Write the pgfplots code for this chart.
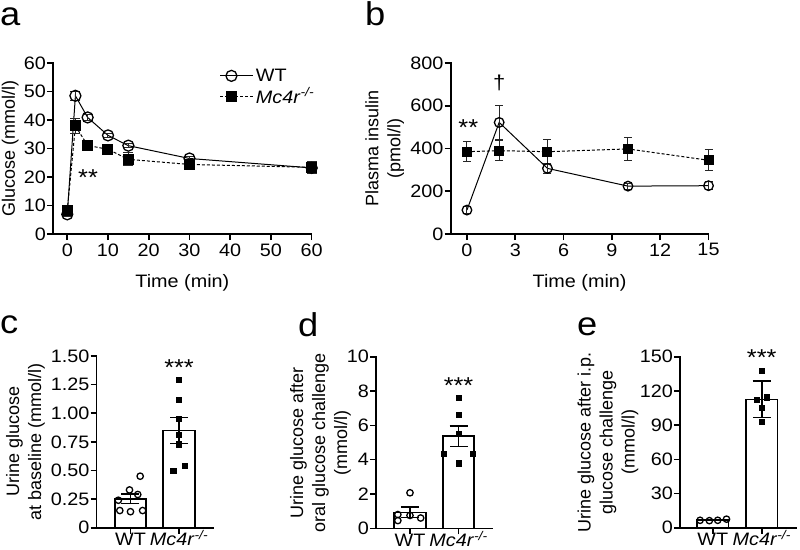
\documentclass[border=0pt]{standalone}
\usepackage{fontspec}
\setmainfont{Liberation Sans}[FakeStretch=1.1]
\newfontfamily\rotfont{Liberation Sans}
\usepackage{pgfplots}
\pgfplotsset{compat=1.18}
\newcommand{\mcr}{\textit{Mc4r}\textsuperscript{\textit{-/-}}}
\pgfplotsset{
  prism/.style={
    scale only axis, anchor=south west, clip=false,
    axis lines=left,
    axis line style={-, line width=1.6pt, line cap=rect},
    tick style={line width=1.6pt, black},
    major tick length=6pt, tick align=outside,
    /pgf/number format/assume math mode=true,
    tick label style={font=\fontsize{18}{22}\selectfont},
    label style={font=\fontsize{18}{22}\selectfont},
    every axis y label/.style={at={(axis description cs:-0.2,0.5)}, rotate=90, anchor=center, align=center, font=\rotfont\fontsize{18}{22}\selectfont},
    every axis x label/.style={at={(axis description cs:0.5,0)}, anchor=base, yshift=-53pt},
    yticklabel style={inner sep=1pt},
  },
  bottom/.style={xtick={0,1}, xticklabels={WT,\mcr}, xticklabel style={anchor=base, inner sep=0pt, yshift=-12pt}},
  wt/.style={error bars/.cd, y dir=both, y explicit, error bar style={line width=1pt, black!85}, error mark options={rotate=90, black!85, line width=1pt, mark size=#1},
    /pgfplots/.cd, black, line width=1pt, mark=o, mark options={solid, fill=white, line width=1.3pt}},
  ko/.style={error bars/.cd, y dir=both, y explicit, error bar style={solid, line width=1pt, black!85}, error mark options={rotate=90, solid, black!85, line width=1pt, mark size=#1},
    /pgfplots/.cd, black, line width=1pt, densely dashed, mark=square*, mark options={solid, fill=black}},
  bars/.style={error bars/.cd, y dir=both, y explicit, error bar style={line width=1.6pt}, error mark options={rotate=90, line width=1.6pt, mark size=9pt},
    /pgfplots/.cd, ybar, bar width=31.5pt, fill=white, draw=black, line width=1.6pt},
  dotswt/.style={only marks, mark=o, mark size=3.2pt, mark options={line width=1.3pt, fill=white}},
  dotsko/.style={only marks, mark=square*, mark size=2.6pt, mark options={fill=black}},
}
\begin{document}
\begin{tikzpicture}[font=\fontsize{18}{22}\selectfont]
\useasboundingbox (0pt,0pt) rectangle (800pt,-549pt);
% panel letters
\node[anchor=base west, inner sep=0pt, font=\fontsize{33}{36}\selectfont] at (0pt,-25pt) {a};
\node[anchor=base west, inner sep=0pt, font=\fontsize{33}{36}\selectfont] at (365pt,-25pt) {b};
\node[anchor=base west, inner sep=0pt, font=\fontsize{33}{36}\selectfont] at (0pt,-333pt) {c};
\node[anchor=base west, inner sep=0pt, font=\fontsize{33}{36}\selectfont] at (298pt,-336pt) {d};
\node[anchor=base west, inner sep=0pt, font=\fontsize{33}{36}\selectfont] at (577pt,-335pt) {e};

% ---------- panel a ----------
\begin{axis}[prism, at={(53pt,-234pt)}, width=258.7pt, height=171pt,
  xmin=-3.5, xmax=60, ymin=0, ymax=60,
  xtick={0,10,...,60}, ytick={0,10,...,60},
  xlabel={Time (min)}, ylabel={Glucose (mmol/l)},
  every axis y label/.append style={at={(axis description cs:-0.165,0.5)}},
  legend style={at={(axis description cs:0.633,0.99)}, anchor=north west, draw=none, fill=none, row sep=1pt, font=\fontsize{18}{22}\selectfont},
  legend cell align=left,
  legend image code/.code={\draw[mark repeat=2, mark phase=2] plot coordinates {(0pt,0pt) (11pt,0pt) (22pt,0pt)}; \path (0pt,0pt) -- (33pt,0pt);},
]
\addplot[wt=5pt, mark size=5.5pt] coordinates {(0,6.9) +- (0,0.8) (2,48.5) +- (0,1.6) (5,40.9) +- (0,1.0) (10,34.6) +- (0,0.8) (15,31.0) +- (0,0.8) (30,26.5) +- (0,0.8) (60,23.2) +- (0,1.8)};
\addlegendentry{WT}
\addplot[ko=5pt, mark size=5pt] coordinates {(0,8.2) +- (0,0.5) (2,37.9) +- (0,2.8) (5,31.1) +- (0,1.3) (10,29.7) +- (0,1.8) (15,26.2) +- (0,2.3) (30,24.4) +- (0,1.3) (60,23.4) +- (0,2.2)};
\addlegendentry{\mcr}
\node[anchor=base, font=\fontsize{23}{26}\selectfont] at (axis cs:5.1,17.0) {**};
\end{axis}

% ---------- panel b ----------
\begin{axis}[prism, at={(450.7pt,-234pt)}, width=257.8pt, height=171pt,
  xmin=-1.01, xmax=15, ymin=0, ymax=800,
  xtick={0,3,...,15}, ytick={0,200,...,800},
  xlabel={Time (min)}, ylabel={Plasma insulin\\(pmol/l)},
  every axis y label/.append style={at={(axis description cs:-0.256,0.5)}},
]
\addplot[wt=4pt, mark size=4.8pt] coordinates {(0,112) +- (0,15) (2,522) +- (0,80) (5,307) +- (0,22) (10,224) +- (0,14) (15,226) +- (0,20)};
\addplot[ko=4pt, mark size=4.5pt] coordinates {(0,385) +- (0,47) (2,390) +- (0,47) (5,385) +- (0,55) (10,398) +- (0,55) (15,345) +- (0,50)};
\node[anchor=base, font=\fontsize{23}{26}\selectfont] at (axis cs:0.08,461) {**};
\node[anchor=base, font=\fontsize{20}{24}\selectfont] at (axis cs:2,674) {\dag};
\end{axis}

% ---------- panel c ----------
\begin{axis}[prism, bottom, at={(96.5pt,-527.7pt)}, width=116.5pt, height=171.7pt,
  xmin=-0.7, xmax=1.7, ymin=0, ymax=1.5,
  ytick={0,0.25,0.5,0.75,1,1.25,1.5}, yticklabels={0,0.25,0.50,0.75,1.00,1.25,1.50},
  ylabel={Urine glucose\\at baseline (mmol/l)},
  every axis y label/.append style={at={(axis description cs:-0.61,0.5)}},
]
\addplot[bars] coordinates {(0,0.253) +- (0,0.04) (1,0.849) +- (0,0.115)};
\addplot[dotswt] coordinates {(0.2,0.45) (-0.02,0.33) (0.15,0.29) (-0.25,0.24) (-0.22,0.15) (0.0,0.14) (0.25,0.15)};
\addplot[dotsko] coordinates {(1,1.29) (1,1.12) (1,0.95) (1,0.81) (1,0.73) (1.12,0.54) (0.88,0.50)};
\node[anchor=base, font=\fontsize{23}{26}\selectfont] at (axis cs:1,1.33) {***};
\end{axis}

% ---------- panel d ----------
\begin{axis}[prism, bottom, at={(376pt,-528.3pt)}, width=116.5pt, height=171.6pt,
  xmin=-0.7, xmax=1.7, ymin=0, ymax=10,
  ytick={0,2,...,10},
  ylabel={Urine glucose after\\oral glucose challenge\\(mmol/l)},
  every axis y label/.append style={at={(axis description cs:-0.476,0.5)}},
]
\addplot[bars] coordinates {(0,0.93) +- (0,0.3) (1,5.37) +- (0,0.6)};
\addplot[dotswt] coordinates {(0,2.07) (-0.25,0.8) (0,0.75) (0.22,0.6) (-0.25,0.45)};
\addplot[dotsko] coordinates {(1,7.61) (1,6.64) (1,5.5) (0.7,4.37) (1.3,4.33) (1,3.79)};
\node[anchor=base, font=\fontsize{23}{26}\selectfont] at (axis cs:1,7.86) {***};
\end{axis}

% ---------- panel e ----------
\begin{axis}[prism, bottom, at={(680pt,-527.7pt)}, width=116pt, height=171pt,
  xmin=-0.67, xmax=1.7, ymin=0, ymax=150,
  ytick={0,30,...,150},
  ylabel={Urine glucose after i.p.\\glucose challenge\\(mmol/l)},
  every axis y label/.append style={at={(axis description cs:-0.62,0.5)}},
]
\addplot[bars] coordinates {(0,6.8) +- (0,0.5) (1,112.6) +- (0,16)};
\addplot[dotswt] coordinates {(-0.26,6.5) (-0.07,6.2) (0.1,6.5) (0.28,7.5)};
\addplot[dotsko] coordinates {(1,137.5) (1.1,114.4) (0.9,112.6) (1,105.6) (1,93)};
\node[anchor=base, font=\fontsize{23}{26}\selectfont] at (axis cs:1,142.3) {***};
\end{axis}
\end{tikzpicture}
\end{document}
